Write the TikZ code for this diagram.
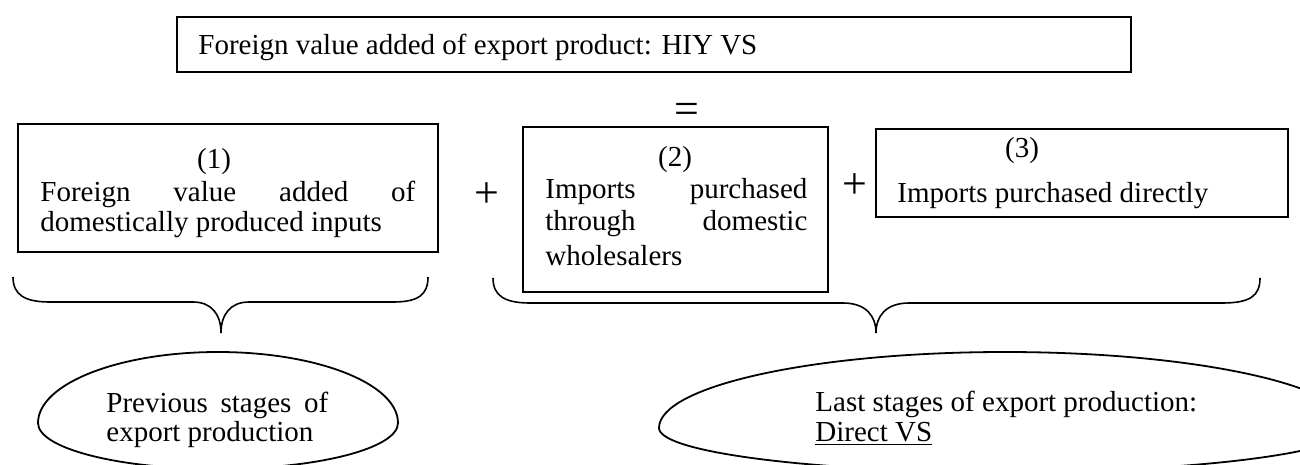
\documentclass[tikz,border=0pt]{standalone}
\usepackage{fontspec}
\setmainfont{Liberation Serif}
\usetikzlibrary{fit}
\begin{document}
\begin{tikzpicture}[x=0.5pt,y=-0.5pt,
  box/.style={draw, line width=1pt, inner sep=0pt},
  txt/.style={anchor=base west, inner sep=0pt, font=\fontsize{14.5}{16}\selectfont},
  ctxt/.style={anchor=base, inner sep=0pt, font=\fontsize{14.5}{16}\selectfont},
  op/.style={inner sep=0pt, font=\fontsize{22}{24}\selectfont},
  brace/.style={line width=0.8pt},
  oval/.style={line width=0.9pt}]
\useasboundingbox (0,0) rectangle (1300,465);
% top box
\node[box, fit={(177,17) (1131,72)}] (top) {};
\node[txt] (toptext) at (198,55) {Foreign value added of export product: HIY VS};
\node[op] (eq) at (687,113.5) {=};
% box 1
\node[box, fit={(18,124) (438,252)}] (b1) {};
\node[ctxt] (b1n) at (214,169) {(1)};
\node[txt] (b1a) at (40,201) {\makebox[187.5pt][s]{Foreign value added of}};
\node[txt] (b1b) at (40,231) {domestically produced inputs};
% plus
\node[op] (p1) at (487,195) {+};
% box 2
\node[box, fit={(523,127) (828,292)}] (b2) {};
\node[ctxt] (b2n) at (675,166) {(2)};
\node[txt] (b2a) at (545,198) {\makebox[131pt][s]{Imports purchased}};
\node[txt] (b2b) at (545,230) {\makebox[131pt][s]{through domestic}};
\node[txt] (b2c) at (545,265) {wholesalers};
% plus
\node[op] (p2) at (855,186) {+};
% box 3
\node[box, fit={(876,129) (1288,217)}] (b3) {};
\node[ctxt] (b3n) at (1022,157) {(3)};
\node[txt] (b3a) at (897,202) {Imports purchased directly};
% braces
\draw[brace] (13,277) .. controls (13,295) and (25,302) .. (50,302) -- (193,302)
  .. controls (212,302) and (221,315) .. (221,333)
  .. controls (221,315) and (230,302) .. (249,302) -- (393,302)
  .. controls (418,302) and (428,295) .. (428,277);
\draw[brace] (493,278) .. controls (493,296) and (505,303) .. (530,303) -- (843,303)
  .. controls (866,303) and (876,316) .. (876,333)
  .. controls (876,316) and (886,303) .. (909,303) -- (1222,303)
  .. controls (1250,303) and (1260,296) .. (1260,278);
% ovals
\draw[oval] (38,423) arc[start angle=180, end angle=0, x radius=90pt, y radius=35.5pt]
  arc[start angle=0, end angle=-180, x radius=90pt, y radius=23pt] -- cycle;
\node[txt] (e1a) at (106,412) {\makebox[111pt][s]{Previous stages of}};
\node[txt] (e1b) at (106,441) {export production};
\draw[oval] (659,428) arc[start angle=180, end angle=0, x radius=173pt, y radius=38pt]
  arc[start angle=0, end angle=-180, x radius=173pt, y radius=22pt] -- cycle;
\node[txt] (e2a) at (815,411) {Last stages of export production:};
\node[txt] (e2b) at (815,441) {\underline{Direct VS}};
\end{tikzpicture}
\end{document}
